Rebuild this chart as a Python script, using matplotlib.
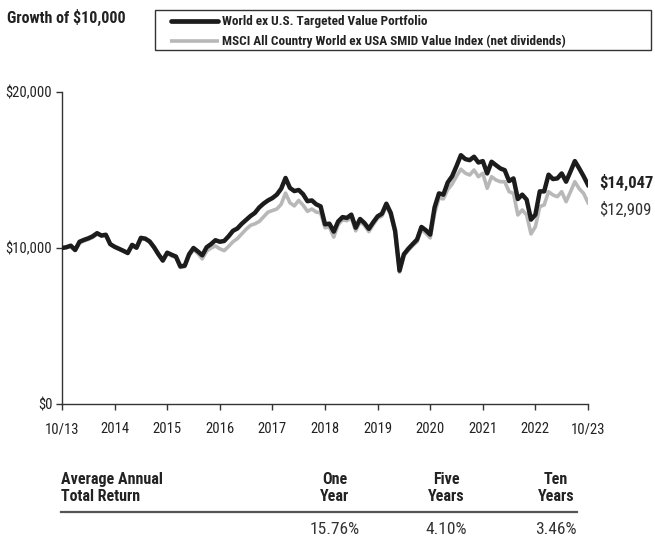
import matplotlib
matplotlib.use("Agg")
import matplotlib.pyplot as plt
from matplotlib.patches import Rectangle
from matplotlib.lines import Line2D

plt.rcParams['font.family'] = ['Roboto Condensed', 'DejaVu Sans']

# ---- data (monthly, 10/13 .. 10/23) ----
portfolio = [10000, 10050, 10150, 9870, 10400, 10520, 10620, 10750, 10950, 10800,
             10850, 10250, 10080, 9950, 9820, 9680, 10200, 10020, 10650, 10600,
             10420, 10050, 9600, 9200, 9700, 9570, 9450, 8820, 8870, 9600,
             10000, 9780, 9530, 10050, 10250, 10500, 10400, 10450, 10750, 11100,
             11250, 11550, 11800, 12050, 12250, 12600, 12850, 13050, 13200, 13420,
             13800, 14490, 13850, 13650, 13720, 13450, 13000, 13050, 12800, 12670,
             11520, 11560, 11050, 11700, 11980, 11930, 12140, 11300, 11860, 11600,
             11230, 11650, 12030, 12200, 12840, 12250, 11100, 8550, 9600, 9950,
             10250, 10540, 11350, 11140, 10860, 12600, 13500, 13420, 14200, 14600,
             15250, 15950, 15700, 15630, 15850, 15480, 15570, 14780, 15530, 15310,
             15100, 14990, 14290, 14460, 13140, 13420, 13100, 11820, 12140, 13630,
             13630, 14700, 14420, 14460, 14780, 14250, 14900, 15570, 15100, 14600,
             14047]
index = [10000, 10030, 10120, 9850, 10330, 10450, 10550, 10680, 10900, 10760,
         10820, 10230, 10050, 9930, 9800, 9650, 10150, 9980, 10600, 10560,
         10380, 10000, 9550, 9150, 9650, 9500, 9380, 8750, 8800, 9500,
         9900, 9650, 9300, 9800, 10000, 10130, 9950, 9830, 10100, 10400,
         10600, 10900, 11200, 11450, 11550, 11700, 12000, 12300, 12400, 12500,
         12800, 13520, 12900, 12700, 13050, 12750, 12350, 12500, 12300, 12250,
         11300, 11350, 10700, 11500, 11800, 11750, 11950, 11100, 11700, 11450,
         11050, 11500, 11900, 12050, 12700, 12100, 10950, 8450, 9500, 9850,
         10150, 10400, 11200, 10950, 10650, 12200, 13200, 13150, 13750, 14100,
         14600, 15050, 14800, 14680, 15000, 14570, 14790, 13830, 14570, 14360,
         14250, 14250, 13610, 13500, 12120, 12440, 12120, 10900, 11370, 12650,
         12760, 13610, 13400, 13290, 13610, 12970, 13600, 14250, 13800, 13500,
         12909]
months = list(range(len(portfolio)))
x_ticks = [0, 12, 24, 36, 48, 60, 72, 84, 96, 108, 120]
x_labels = ['10/13', '2014', '2015', '2016', '2017', '2018', '2019', '2020', '2021', '2022', '10/23']
y_ticks = [0, 10000, 20000]
y_labels = ['$0', '$10,000', '$20,000']
series_names = ['World ex U.S. Targeted Value Portfolio',
                'MSCI All Country World ex USA SMID Value Index (net dividends)']
end_labels = ['$14,047', '$12,909']
periods = ['One\nYear', 'Five\nYears', 'Ten\nYears']
returns = ['15.76%', '4.10%', '3.46%']

W, H = 655, 540
BLACK = '#1c1c1c'
GRAY = '#b8b8b8'
TXT = '#222222'
fig = plt.figure(figsize=(W / 100, H / 100), dpi=100)

def fx(px):
    return px / W

def fy(py):
    return 1 - py / H

ax = fig.add_axes([fx(62), fy(404), fx(588) - fx(62), fy(92) - fy(404)])
ax.plot(months, index, color=GRAY, lw=2.6, solid_joinstyle='round', zorder=2)
ax.plot(months, portfolio, color=BLACK, lw=3.2, solid_joinstyle='round', zorder=3)
ax.set_xlim(0, 120)
ax.set_ylim(0, 20000)
ax.set_xticks(x_ticks)
ax.set_xticklabels(x_labels)
ax.set_yticks(y_ticks)
ax.set_yticklabels(y_labels)
for s in ['top', 'right']:
    ax.spines[s].set_visible(False)
for s in ['left', 'bottom']:
    ax.spines[s].set_color('#333333')
    ax.spines[s].set_linewidth(1.0)
ax.tick_params(axis='both', direction='out', length=4, width=1, color='#333333',
               labelsize=10.5, labelcolor=TXT)
ax.tick_params(axis='x', pad=9)
ax.tick_params(axis='y', pad=3)
ax.patch.set_alpha(0)

# end labels
ax.annotate(end_labels[0], xy=(120, portfolio[-1]), xytext=(8, 2),
            textcoords='offset points', va='center', ha='left', fontsize=12,
            fontweight='bold', color=TXT, annotation_clip=False)
ax.annotate(end_labels[1], xy=(120, index[-1]), xytext=(8, -5),
            textcoords='offset points', va='center', ha='left', fontsize=12,
            color='#333333', annotation_clip=False)

# title
fig.text(fx(7), fy(17), 'Growth of $10,000', fontsize=11.5, fontweight='bold',
         color=TXT, va='center', ha='left')

# legend box
fig.patches.append(Rectangle((fx(155), fy(50)), fx(651) - fx(155), fy(10) - fy(50),
                             transform=fig.transFigure, fill=False, ec='#333333', lw=1.0))
fig.lines.append(Line2D([fx(171), fx(218)], [fy(21), fy(21)], transform=fig.transFigure,
                        color=BLACK, lw=3.4, solid_capstyle='round'))
fig.lines.append(Line2D([fx(170), fx(219)], [fy(41), fy(41)], transform=fig.transFigure,
                        color=GRAY, lw=2.6, solid_capstyle='butt'))
fig.text(fx(222), fy(21), series_names[0], fontsize=9.5, fontweight='bold', va='center',
         ha='left', color=TXT)
fig.text(fx(222), fy(41), series_names[1], fontsize=9.5, fontweight='bold', va='center',
         ha='left', color=TXT)

# returns table
fig.text(fx(61), fy(488), 'Average Annual\nTotal Return', fontsize=11.5, fontweight='bold',
         va='center', ha='left', color=TXT, linespacing=1.1)
for cx, p, r in zip([335, 446, 556], periods, returns):
    fig.text(fx(cx), fy(488), p, fontsize=11.5, fontweight='bold', va='center',
             ha='center', color=TXT, linespacing=1.1)
    fig.text(fx(cx), fy(529), r, fontsize=12.5, va='center', ha='center',
             color='#333333')
fig.lines.append(Line2D([fx(61), fx(577)], [fy(512), fy(512)], transform=fig.transFigure,
                        color='#555555', lw=1.6))

fig.savefig('out.png', dpi=100)
